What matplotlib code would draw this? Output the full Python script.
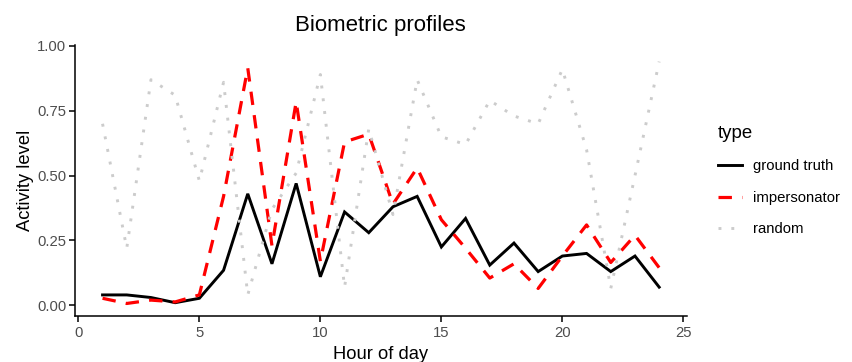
import numpy as np
import matplotlib
matplotlib.use("Agg")
import matplotlib.pyplot as plt

plt.rcParams['font.family'] = ['Liberation Sans', 'DejaVu Sans']

# hourly activity profiles
hours = list(range(1, 25))
ground_truth = [0.04, 0.04, 0.03, 0.01, 0.027, 0.135, 0.43, 0.16, 0.47, 0.11, 0.36, 0.28,
                0.38, 0.42, 0.225, 0.335, 0.155, 0.24, 0.13, 0.19, 0.20, 0.13, 0.19, 0.07]
impersonator = [0.027, 0.007, 0.02, 0.013, 0.04, 0.42, 0.915, 0.23, 0.785, 0.17, 0.63, 0.66,
                0.39, 0.53, 0.33, 0.22, 0.105, 0.16, 0.065, 0.19, 0.31, 0.165, 0.27, 0.145]
random_profile = [0.70, 0.22, 0.87, 0.81, 0.48, 0.86, 0.04, 0.37, 0.51, 0.89, 0.07, 0.68,
                  0.35, 0.87, 0.65, 0.62, 0.79, 0.73, 0.70, 0.91, 0.60, 0.065, 0.50, 0.94]
labels = ['ground truth', 'impersonator', 'random']

fig = plt.figure(figsize=(8.53, 3.62), dpi=100)
ax = fig.add_axes([0.0876, 0.128, 0.7178, 0.7478])

ax.plot(hours, ground_truth, color='black', lw=2.1, solid_joinstyle='miter', label=labels[0])
ax.plot(hours, impersonator, color='#FF0000', lw=2.3, dashes=(4.2, 3.2), label=labels[1])
ax.plot(hours, random_profile, color='#CCCCCC', lw=2.1, dashes=(1.0, 3.4), label=labels[2])

ax.set_xlim(-0.15, 25.15)
ax.set_ylim(-0.04, 1.004)
ax.set_xticks([0, 5, 10, 15, 20, 25])
ax.set_yticks([0, 0.25, 0.5, 0.75, 1.0])
ax.set_yticklabels(['0.00', '0.25', '0.50', '0.75', '1.00'])

for side in ['top', 'right']:
    ax.spines[side].set_visible(False)
for side in ['left', 'bottom']:
    ax.spines[side].set_linewidth(1.1)
ax.tick_params(axis='both', colors='black', width=1.1, length=4, labelsize=10.7,
               labelcolor='#4D4D4D')
ax.tick_params(axis='x', pad=3.5)
ax.tick_params(axis='y', pad=2)

ax.set_xlabel('Hour of day', fontsize=13.2, labelpad=4)
ax.set_ylabel('Activity level', fontsize=13.2, labelpad=2)
ax.set_title('Biometric profiles', fontsize=16, pad=10)

leg = ax.legend(title='type', loc='upper left', bbox_to_anchor=(1.028, 0.755), frameon=False,
                fontsize=10.7, title_fontsize=13.4, handlelength=1.68, handletextpad=0.74,
                labelspacing=1.18, alignment='left')

fig.savefig('out.png', dpi=100)
